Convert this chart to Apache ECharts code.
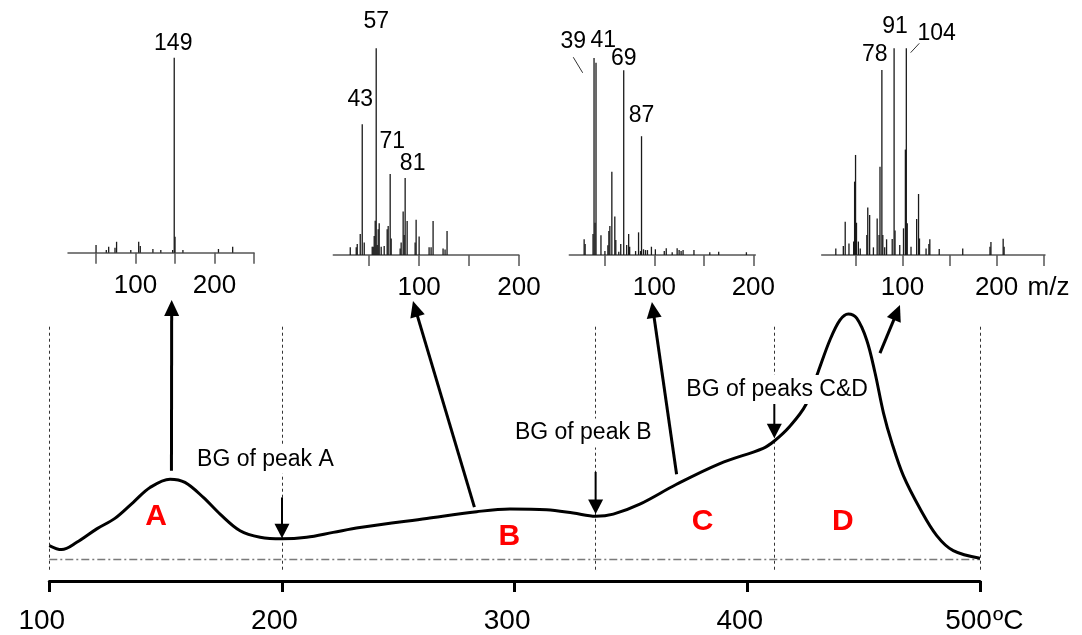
<!DOCTYPE html>
<html><head><meta charset="utf-8">
<script src="https://cdn.jsdelivr.net/npm/echarts@6/dist/echarts.min.js"></script>
<style>html,body{margin:0;padding:0;background:#fff}#c{width:1082px;height:635px}</style>
</head><body><div id="c"></div>
<script>
// ---------- main thermogram ----------
const temps  = [100, 105.3, 111.8, 120.4, 128.2, 136.1, 143.3, 151.9, 158.3, 166.2, 173.4, 182, 190.6, 200, 210.6, 222, 233.5, 262.2, 283.7, 298, 313.7, 325.2, 334.8, 342.4, 353.8, 369.6, 388.2, 406.8, 411.6, 418.3, 425.2, 430.5, 435.5, 439.8, 443.4, 447, 451.3, 454.9, 458.5, 462.1, 467.1, 474.3, 481.4, 488.5, 500];
const signal = [5.2, 3.7, 6.4, 11.4, 15.3, 21.3, 26.8, 29.9, 28.7, 23.1, 16.9, 10.7, 8.3, 7.7, 8.3, 10.1, 11.9, 15.3, 17.8, 18.8, 18.5, 17.3, 16.1, 16.9, 20.6, 28, 35.7, 41.4, 44.1, 49.6, 57.7, 70, 81.7, 89.1, 91.4, 89.8, 81.7, 69.4, 54.6, 43.5, 31.1, 18.8, 8.9, 3.3, 0.5];
const tempTicks = [100, 200, 300, 400, 500];
const guideTemps = [100, 200, 334.8, 411.6, 500];
const bgTemps = [200, 334.8, 411.6];
const bgTexts = ['BG of peak A', 'BG of peak B', 'BG of peaks C&D'];
const regionNames = ['A', 'B', 'C', 'D'];

// ---------- mass spectra (m/z, relative intensity %) ----------
const mz1 = [50, 63, 66, 74, 76, 94, 104, 106, 122, 132, 147, 149, 150, 160, 205, 223];
const in1 = [4, 1.4, 3, 2.6, 5.6, 1.4, 5.6, 3.4, 1.9, 1.4, 1.4, 100, 8.2, 1.4, 1.9, 3];
const tags1 = [[149, '149']];

const mz2 = [31, 37, 38, 41, 43, 45, 53, 54, 55, 56, 57, 58, 59, 60, 62, 65, 68, 69, 71, 72, 81, 82, 84, 85, 86, 88, 96, 97, 100, 110, 112, 114, 124, 126, 128];
const in2 = [3.7, 3.7, 5.3, 10.2, 63.2, 6, 4, 4, 9.2, 16.6, 100, 4.8, 12.4, 15.3, 4, 4.4, 12.4, 14, 39.2, 8, 3.2, 6, 21, 9.7, 37.3, 16.4, 6, 17, 8.9, 3.7, 3.7, 16.4, 3.2, 2.7, 11.6];
const tags2 = [[43, '43'], [57, '57'], [71, '71'], [86, '81']];

const mz3 = [29, 30, 38, 39, 40, 41, 46, 50, 53, 54, 55, 57, 60, 61, 64, 66, 69, 72, 74, 75, 81, 84, 86, 87, 89, 91, 93, 97, 101, 110, 112, 118, 123, 125, 127, 129, 140, 156, 165, 193];
const in3 = [8, 5.6, 10.7, 100, 16.4, 97.6, 10, 2, 5, 12.2, 14.7, 42.2, 19.5, 7.6, 1.7, 5.6, 93.8, 5.1, 10.7, 4.2, 2, 11.5, 2, 60.3, 2.9, 2.5, 2.5, 4.2, 2.9, 2, 3.4, 1.4, 3.4, 2.5, 2, 2.5, 2.5, 1.4, 1.7, 1.4];
const tags3 = [[39, '39'], [41, '41'], [69, '69'], [87, '87']];

const mz4 = [29, 37, 39, 43, 48, 49, 50, 51, 53, 55, 62, 63, 65, 69, 73, 75, 76, 78, 79, 81, 83, 89, 91, 92, 97, 101, 103, 104, 105, 109, 115, 117, 118, 125, 128, 129, 139, 164, 193, 194, 207, 208];
const in4 = [3.2, 4.4, 16.1, 5.6, 6.5, 35.5, 48.4, 15.6, 6.5, 3.2, 9.7, 23, 19.4, 3.7, 17.7, 9.7, 42.7, 89.5, 9.7, 3.7, 7.6, 7.7, 100, 11.8, 4.8, 12.9, 51, 100, 15.3, 4, 17.4, 29.5, 8, 3.2, 5.3, 7.6, 2.9, 3.2, 4, 6.3, 7.9, 4];
const tags4 = [[78, '78'], [91, '91'], [104, '104']];

const mzTickVals = [50, 100, 150, 200, 250];
const mzLabelVals = [100, 200];

// ---------- layout / styling ----------
const FONT = '"Liberation Sans", Arial, Helvetica, sans-serif';
const specLayout = [
  {grid: {left: 68, top: 57.7, width: 186, height: 195}, min: 14.5, max: 250,
   offs: {'149': [-1, -3]}},
  {grid: {left: 333.3, top: 48.3, width: 185.6, height: 206.7}, min: 14, max: 200,
   offs: {'57': [0, -15], '43': [-2, -13], '71': [2, -21], '81': [7.5, -3]}},
  {grid: {left: 569.3, top: 58, width: 186, height: 197}, min: 14, max: 202,
   offs: {'39': [-20.7, -4.5], '41': [7.3, -10.8], '69': [0, 0], '87': [0, -9.5]}},
  {grid: {left: 821.7, top: 48.3, width: 223.3, height: 206.7}, min: 14, max: 251.5,
   offs: {'78': [-7, -3.5], '91': [1, -10], '104': [30.4, -3.5]}}
];
const spectra = [[mz1, in1, tags1], [mz2, in2, tags2], [mz3, in3, tags3], [mz4, in4, tags4]];

const grids = [{left: 49.3, right: 102, top: 312.3, bottom: 52.7}];
const xAxes = [{
  type: 'value', gridIndex: 0, min: 100, max: 500, interval: 100,
  axisLine: {onZero: false, lineStyle: {color: '#000', width: 3}},
  axisTick: {length: 11, lineStyle: {color: '#000', width: 3}},
  axisLabel: {fontSize: 28, color: '#000', fontFamily: FONT, margin: 26, padding: [0, 15, 0, 0],
    formatter: v => v === tempTicks[tempTicks.length - 1] ? '{e|' + v + '}' : String(v),
    rich: {e: {fontSize: 28, color: '#000', fontFamily: FONT, padding: [0, 8, 0, 0]}}},
  splitLine: {show: false}
}];
const yAxes = [{type: 'value', gridIndex: 0, min: -8, max: 92, show: false}];
const series = [
  {type: 'line', xAxisIndex: 0, yAxisIndex: 0, data: temps.map((t, i) => [t, signal[i]]),
   smooth: 0.35, symbol: 'none', lineStyle: {color: '#000', width: 3}, z: 5, silent: true},
  {type: 'line', xAxisIndex: 0, yAxisIndex: 0, data: [[100, 0], [500, 0]], symbol: 'none',
   lineStyle: {color: '#7a7a7a', width: 1.3, type: [8, 3, 2, 3]}, silent: true, z: 3,
   markLine: {silent: true, symbol: ['none', 'none'], label: {show: false},
     lineStyle: {color: '#333', width: 1, type: [3, 3]},
     data: guideTemps.map(t => [{coord: [t, -3.8]}, {coord: [t, 87.3]}])}}
];

spectra.forEach((s, k) => {
  const L = specLayout[k];
  const gi = k + 1;
  grids.push(L.grid);
  xAxes.push({
    type: 'value', gridIndex: gi, min: L.min, max: L.max,
    axisLine: {onZero: false, lineStyle: {color: '#555', width: 1.5}},
    axisTick: {customValues: mzTickVals.filter(v => v <= L.max), length: 11, lineStyle: {color: '#555', width: 1.5}},
    axisLabel: {customValues: mzLabelVals, fontSize: 26, color: '#000', fontFamily: FONT, margin: 20},
    splitLine: {show: false}
  });
  yAxes.push({type: 'value', gridIndex: gi, min: 0, max: 100, show: false});
  const [mz, inten, tags] = s;
  series.push({
    type: 'bar', xAxisIndex: gi, yAxisIndex: gi, barWidth: 1.3, silent: true,
    itemStyle: {color: '#1a1a1a'},
    data: mz.map((m, i) => {
      const item = {value: [m, inten[i]]};
      const t = tags.find(tt => tt[0] === m);
      if (t) {
        item.label = {show: true, formatter: t[1], position: 'top', distance: 0,
          offset: L.offs[t[1]], fontSize: 23, color: '#000', fontFamily: FONT};
      }
      return item;
    })
  });
});

const chart = echarts.init(document.getElementById('c'));
chart.setOption({
  animation: false, backgroundColor: '#fff',
  grid: grids, xAxis: xAxes, yAxis: yAxes, series: series
});

// ---------- annotations ----------
const P = (g, x, y) => chart.convertToPixel({gridIndex: g}, [x, y]);
const bigArrows = [[[152.5, 33], [152.6, 96.6]], [[282.7, 19.5], [256.3, 96.2]],
                   [[369.6, 31.7], [359, 95.8]], [[457, 76.8], [465.6, 94.7]]];
const bgArrowSpan = [[23.1, 7.9], [32.6, 16.9], [58.3, 45.1]];
const bgTextPos = [[163.5, 37.3], [300.1, 47.1], [373.8, 63.3]];
const regionPos = [[145.9, 16.1], [297.7, 8.3], [380.8, 13.9], [441, 13.9]];

const gfx = [];
function arrow(p0, p1, w, headLen, half) {
  const dx = p1[0] - p0[0], dy = p1[1] - p0[1];
  const len = Math.hypot(dx, dy), ux = dx / len, uy = dy / len;
  const bx = p1[0] - ux * headLen, by = p1[1] - uy * headLen;
  const nx = -uy, ny = ux;
  gfx.push({type: 'line', z: 50, shape: {x1: p0[0], y1: p0[1], x2: bx + ux, y2: by + uy},
    style: {stroke: '#000', lineWidth: w}});
  gfx.push({type: 'polygon', z: 50, shape: {points: [[p1[0], p1[1]], [bx + nx * half, by + ny * half], [bx - nx * half, by - ny * half]]},
    style: {fill: '#000'}});
}
bigArrows.forEach(a => arrow(P(0, a[0][0], a[0][1]), P(0, a[1][0], a[1][1]), 3, 16, 7.5));
bgTemps.forEach((t, i) => arrow(P(0, t, bgArrowSpan[i][0]), P(0, t, bgArrowSpan[i][1]), 2, 14.5, 7.5));

bgTexts.forEach((txt, i) => {
  const p = P(0, bgTextPos[i][0], bgTextPos[i][1]);
  gfx.push({type: 'text', z: 60, x: p[0] - 3, y: p[1],
    style: {text: txt, fill: '#000', font: '23px ' + FONT, align: 'left', verticalAlign: 'middle',
      backgroundColor: '#fff', padding: [3, 3]}});
});
regionNames.forEach((n, i) => {
  const p = P(0, regionPos[i][0], regionPos[i][1]);
  gfx.push({type: 'text', z: 60, x: p[0], y: p[1],
    style: {text: n, fill: '#ff0000', font: 'bold 30px ' + FONT, align: 'center', verticalAlign: 'middle'}});
});
// unit after 500
const pu = P(0, 500, -8);
gfx.push({type: 'text', z: 60, x: pu[0] + 13, y: pu[1] + 40,
  style: {text: 'ºC', fill: '#000', font: '28px ' + FONT, align: 'left', verticalAlign: 'middle'}});
const pm = P(4, 200, 0);
gfx.push({type: 'text', z: 60, x: pm[0] + 31, y: pm[1] + 33,
  style: {text: 'm/z', fill: '#000', font: '26px ' + FONT, align: 'left', verticalAlign: 'middle'}});
// leader lines for crowded labels
const leaders = [[3, [18, 100.4], [27.5, 92.5]], [4, [117.8, 102.4], [108.6, 97.9]]];
leaders.forEach(l => {
  const a = P(l[0], l[1][0], l[1][1]), b = P(l[0], l[2][0], l[2][1]);
  gfx.push({type: 'line', z: 50, shape: {x1: a[0], y1: a[1], x2: b[0], y2: b[1]}, style: {stroke: '#333', lineWidth: 1}});
});
chart.setOption({graphic: gfx});
</script></body></html>
